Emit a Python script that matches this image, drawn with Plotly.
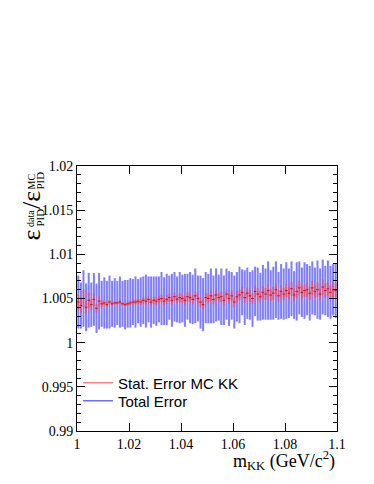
import plotly.graph_objects as go

# bin centres of the m_KK histogram (100 bins between 1.0 and 1.1 GeV/c^2)
mass = [round(1.0005 + 0.001 * i, 4) for i in range(100)]

ratio = [
    1.0046, 1.0042, 1.0050, 1.0040, 1.0048, 1.0043, 1.0049, 1.0039, 1.0047, 1.0044,
    1.0045, 1.0043, 1.0046, 1.0044, 1.0045, 1.0045, 1.0046, 1.0044, 1.0043, 1.0044,
    1.0045, 1.0046, 1.0046, 1.0047, 1.0046, 1.0048, 1.0047, 1.0049, 1.0046, 1.0048,
    1.0047, 1.0049, 1.0050, 1.0047, 1.0049, 1.0051, 1.0048, 1.0052, 1.0049, 1.0051,
    1.0050, 1.0048, 1.0052, 1.0051, 1.0049, 1.0053, 1.0050, 1.0046, 1.0043, 1.0051,
    1.0050, 1.0053, 1.0049, 1.0054, 1.0051, 1.0052, 1.0048, 1.0055, 1.0050, 1.0053,
    1.0046, 1.0052, 1.0054, 1.0057, 1.0051, 1.0056, 1.0053, 1.0050, 1.0058, 1.0055,
    1.0052, 1.0057, 1.0055, 1.0059, 1.0054, 1.0056, 1.0060, 1.0053, 1.0058, 1.0055,
    1.0059, 1.0056, 1.0061, 1.0054, 1.0058, 1.0062, 1.0057, 1.0059, 1.0060, 1.0056,
    1.0062, 1.0058, 1.0060, 1.0055, 1.0063, 1.0059, 1.0061, 1.0057, 1.0060, 1.0059,
]

stat_err = [
    0.00090, 0.00080, 0.00100, 0.00070, 0.00090, 0.00060, 0.00070, 0.00050, 0.00060, 0.00040,
    0.00030, 0.00030, 0.00025, 0.00020, 0.00020, 0.00020, 0.00020, 0.00020, 0.00020, 0.00025,
    0.00025, 0.00030, 0.00030, 0.00030, 0.00035, 0.00035, 0.00040, 0.00040, 0.00040, 0.00040,
    0.00045, 0.00040, 0.00045, 0.00045, 0.00050, 0.00045, 0.00050, 0.00050, 0.00045, 0.00050,
    0.00050, 0.00050, 0.00055, 0.00050, 0.00055, 0.00050, 0.00055, 0.00060, 0.00055, 0.00050,
    0.00055, 0.00060, 0.00055, 0.00060, 0.00055, 0.00060, 0.00060, 0.00055, 0.00060, 0.00060,
    0.00060, 0.00065, 0.00060, 0.00065, 0.00060, 0.00065, 0.00070, 0.00060, 0.00065, 0.00070,
    0.00065, 0.00070, 0.00065, 0.00070, 0.00070, 0.00075, 0.00070, 0.00065, 0.00075, 0.00070,
    0.00075, 0.00070, 0.00080, 0.00070, 0.00075, 0.00080, 0.00075, 0.00070, 0.00080, 0.00075,
    0.00080, 0.00075, 0.00080, 0.00070, 0.00085, 0.00080, 0.00075, 0.00080, 0.00085, 0.00080,
]

total_err = [
    0.0030, 0.0026, 0.0032, 0.0027, 0.0031, 0.0025, 0.0030, 0.0028, 0.0032, 0.0026,
    0.0029, 0.0027, 0.0030, 0.0026, 0.0028, 0.0025, 0.0029, 0.0026, 0.0028, 0.0027,
    0.0028, 0.0026, 0.0029, 0.0025, 0.0028, 0.0027, 0.0030, 0.0026, 0.0029, 0.0027,
    0.0028, 0.0026, 0.0030, 0.0027, 0.0029, 0.0025, 0.0030, 0.0028, 0.0026, 0.0029,
    0.0027, 0.0030, 0.0026, 0.0029, 0.0028, 0.0031, 0.0026, 0.0030, 0.0030, 0.0029,
    0.0028, 0.0031, 0.0027, 0.0030, 0.0026, 0.0032, 0.0028, 0.0029, 0.0031, 0.0027,
    0.0030, 0.0028, 0.0032, 0.0026, 0.0031, 0.0029, 0.0027, 0.0032, 0.0028, 0.0030,
    0.0027, 0.0031, 0.0029, 0.0033, 0.0028, 0.0030, 0.0032, 0.0027, 0.0031, 0.0029,
    0.0032, 0.0028, 0.0031, 0.0027, 0.0033, 0.0030, 0.0028, 0.0032, 0.0029, 0.0031,
    0.0030, 0.0027, 0.0033, 0.0029, 0.0031, 0.0028, 0.0032, 0.0030, 0.0029, 0.0031,
]

half_bin = [0.0005] * len(mass)

x_ticks = [1.0, 1.02, 1.04, 1.06, 1.08, 1.1]
x_tick_labels = ["1", "1.02", "1.04", "1.06", "1.08", "1.1"]
y_ticks = [0.99, 0.995, 1.0, 1.005, 1.01, 1.015, 1.02]
y_tick_labels = ["0.99", "0.995", "1", "1.005", "1.01", "1.015", "1.02"]

legend_names = ["Stat. Error MC KK", "Total Error"]

BLUE = "rgba(40,40,255,0.6)"
RED = "rgba(255,70,70,0.65)"
SERIF = "Liberation Serif"
SANS = "Liberation Sans"

fig = go.Figure()

fig.add_trace(go.Scatter(
    x=mass, y=ratio, mode="markers", showlegend=False, hoverinfo="skip",
    marker=dict(size=1, color="rgba(0,0,0,0)"),
    error_y=dict(type="data", array=total_err, color=BLUE, thickness=2, width=0),
))
fig.add_trace(go.Scatter(
    x=mass, y=ratio, mode="markers", showlegend=False, hoverinfo="skip",
    marker=dict(size=1, color="rgba(0,0,0,0)"),
    error_y=dict(type="data", array=stat_err, color=RED, thickness=2, width=0),
    error_x=dict(type="data", array=half_bin, color="rgba(210,0,0,0.9)", thickness=1, width=0),
))

# legend entries
fig.add_trace(go.Scatter(x=[None], y=[None], mode="lines", name=legend_names[0],
                         legend="legend",
                         line=dict(color="rgba(255,90,90,0.75)", width=1.5)))
fig.add_trace(go.Scatter(x=[None], y=[None], mode="lines", name=legend_names[1],
                         legend="legend2",
                         line=dict(color="rgba(60,60,255,0.75)", width=1.5)))

# the page body has an 8px margin: compensate so the plot lands where it should
OFF = 8
W, H = 374 - OFF, 484 - OFF
L, R, T, B = 77 - OFF, 37, 166 - OFF, 53
pw, ph = W - L - R, H - T - B


def px(xp):
    # absolute window pixel -> paper x
    return (xp - OFF - L) / pw


def py(yp):
    # absolute window pixel -> paper y
    return (H - B - (yp - OFF)) / ph


annotations = []


def rot(text, xc, ybottom, size):
    annotations.append(dict(
        text=text, xref="paper", yref="paper", x=px(xc), y=py(ybottom),
        xanchor="center", yanchor="bottom", textangle=-90, showarrow=False,
        font=dict(family=SERIF, size=size, color="black"),
    ))


rot("ε", 31, 243, 26)
rot("data", 30.5, 229, 10)
rot("PID", 39.5, 229, 11)
rot("/ε", 31, 211, 26)
rot("MC", 30.5, 192, 10)
rot("PID", 39.5, 192, 11)

annotations.append(dict(
    text="m<sub>KK</sub> (GeV/c<sup>2</sup>)", xref="paper", yref="paper",
    x=1, y=py(446), xanchor="right", yanchor="top", showarrow=False,
    font=dict(family=SERIF, size=18, color="black"),
))

axis_common = dict(
    showline=True, linecolor="black", linewidth=1, mirror="ticks",
    ticks="inside", ticklen=8, tickwidth=1, tickcolor="black",
    showgrid=False, zeroline=False,
    tickfont=dict(family=SERIF, size=14, color="black"),
)

leg_common = dict(xanchor="left", yanchor="middle", bgcolor="rgba(0,0,0,0)",
                  borderwidth=0, font=dict(family=SANS, size=15, color="black"),
                  itemwidth=30)

fig.update_layout(
    width=W, height=H,
    margin=dict(l=L, r=R, t=T, b=B, pad=0),
    paper_bgcolor="white", plot_bgcolor="white",
    xaxis=dict(range=[1.0, 1.1], tickmode="array", tickvals=x_ticks,
               ticktext=x_tick_labels, **axis_common),
    yaxis=dict(range=[0.99, 1.02], tickmode="array", tickvals=y_ticks,
               ticktext=y_tick_labels,
               minor=dict(ticks="inside", ticklen=4, tickcolor="black",
                          dtick=0.001, tick0=0.99, showgrid=False),
               **axis_common),
    legend=dict(x=px(78), y=py(383), **leg_common),
    legend2=dict(x=px(78), y=py(401), **leg_common),
    annotations=annotations,
    showlegend=True,
)

fig.write_html("out.html")
